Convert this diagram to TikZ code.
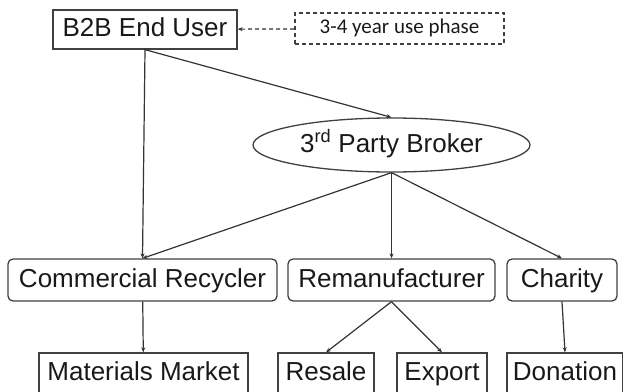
\documentclass[tikz,border=0pt]{standalone}
\usepackage{fontspec}
\setmainfont{Liberation Sans}
\newfontfamily\notefont{Carlito}
\usetikzlibrary{arrows.meta,shapes.geometric}

\begin{document}
\begin{tikzpicture}[x=1pt, y=-1pt,
	font=\fontsize{26}{30}\selectfont,
	every node/.style={text=black!90, draw=black!75, line width=1.3pt, inner sep=0pt,
		text height=19pt, text depth=5pt},
	box/.style={rectangle, minimum height=40},
	softbox/.style={rectangle, rounded corners=5pt, minimum height=42},
	link/.style={draw=black!80, line width=1.2pt, -{Stealth[length=5pt, width=4pt]}}]

	%% Page frame, the bottom row runs off its lower edge
	\clip (0,0) rectangle (623,391);

	%% Top: the user and the note beside it
	\node at (145,29.5) [box, minimum width=184, minimum height=39] (user) {B2B End User};
	\node at (399.5,28.5) [box, dashed, dash pattern=on 4pt off 3pt, line width=1.6pt,
		minimum width=209, minimum height=31, text height=14pt, text depth=4pt,
		font=\notefont\fontsize{21}{24}\selectfont] (phase) {3-4 year use phase};

	%% The broker
	\node at (391.5,145) [ellipse, minimum width=277, minimum height=54] (broker) {3\textsuperscript{rd} Party Broker};

	%% Middle row
	\node at (142.5,280) [softbox, minimum width=269] (recycler) {Commercial Recycler};
	\node at (391.5,280) [softbox, minimum width=207] (reman) {Remanufacturer};
	\node at (562,280) [softbox, minimum width=110] (charity) {Charity};

	%% Bottom row
	\node at (143.5,373) [box, minimum width=209] (market) {Materials Market};
	\node at (326,373) [box, minimum width=96] (resale) {Resale};
	\node at (442,373) [box, minimum width=90] (export) {Export};
	\node at (565,373) [box, minimum width=116] (donation) {Donation};

	%% Connectors
	\draw[link, dashed, dash pattern=on 4pt off 3pt] (phase) -- (user);
	\draw[link] (user.south) -- (recycler.north);
	\draw[link] (user.south) -- (broker.north);
	\foreach \t in {recycler,reman,charity}{%
		\draw[link] (broker.south) -- (\t.north);
	}
	\draw[link] (recycler) -- (market);
	\draw[link] (reman.south) -- (resale.north);
	\draw[link] (reman.south) -- (export.north);
	\draw[link] (charity.south) -- (donation.north);

\end{tikzpicture}
\end{document}
